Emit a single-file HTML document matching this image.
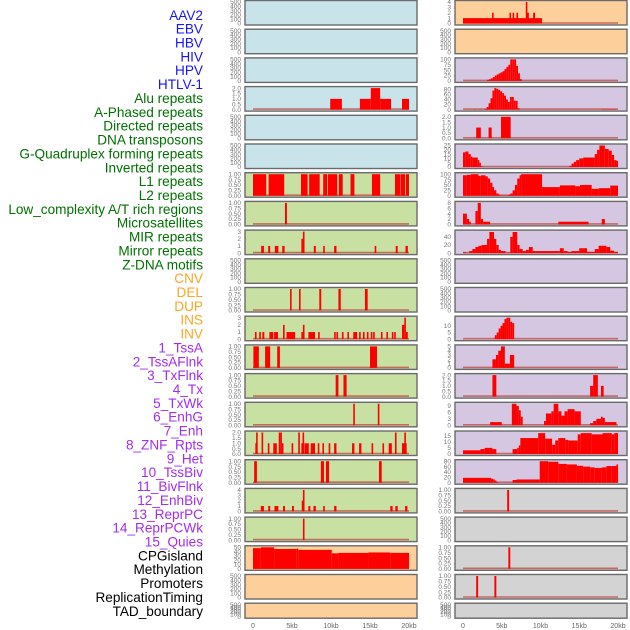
<!DOCTYPE html>
<html><head><meta charset="utf-8">
<style>
html,body{margin:0;padding:0;background:#fff;}
svg{display:block;font-family:"Liberation Sans",sans-serif;}
</style></head>
<body>
<svg id="chart" width="630" height="630" viewBox="0 0 630 630"></svg>
<script>
// ---------- data ----------
const labels = ["AAV2","EBV","HBV","HIV","HPV","HTLV-1","Alu repeats","A-Phased repeats","Directed repeats","DNA transposons","G-Quadruplex forming repeats","Inverted repeats","L1 repeats","L2 repeats","Low_complexity A/T rich regions","Microsatellites","MIR repeats","Mirror repeats","Z-DNA motifs","CNV","DEL","DUP","INS","INV","1_TssA","2_TssAFlnk","3_TxFlnk","4_Tx","5_TxWk","6_EnhG","7_Enh","8_ZNF_Rpts","9_Het","10_TssBiv","11_BivFlnk","12_EnhBiv","13_ReprPC","14_ReprPCWk","15_Quies","CPGisland","Methylation","Promoters","ReplicationTiming","TAD_boundary"];
const labelGroups = ["virus","virus","virus","virus","virus","virus","repeat","repeat","repeat","repeat","repeat","repeat","repeat","repeat","repeat","repeat","repeat","repeat","repeat","sv","sv","sv","sv","sv","state","state","state","state","state","state","state","state","state","state","state","state","state","state","state","other","other","other","other","other"];
const xTicks = [0,5,10,15,20];
const xTickLabels = ["0","5kb","10kb","15kb","20kb"];
const leftGroups  = ["virus","virus","virus","virus","virus","virus","repeat","repeat","repeat","repeat","repeat","repeat","repeat","repeat","repeat","repeat","repeat","repeat","repeat","other","other","other"];
const rightGroups = ["other","other","state","state","state","state","state","state","state","state","state","state","state","state","state","state","state","gray","gray","gray","gray","gray"];
const T_EMPTY=[0,100,200,300,400,500], T_BIN=[0,0.25,0.5,0.75,1], T2=[0,0.5,1,1.5,2], T3=[0,1,2,3], T4=[0,1,2,3,4];
const leftYmax  = [500,500,500,2,500,500,1,1,3,500,1,3,1,1,1,2,1,4,1,50,500,500];
const leftTicks = [T_EMPTY,T_EMPTY,T_EMPTY,T2,T_EMPTY,T_EMPTY,T_BIN,T_BIN,T3,T_EMPTY,T_BIN,T3,T_BIN,T_BIN,T_BIN,T2,T_BIN,T4,T_BIN,[0,10,20,30,40,50],T_EMPTY,T_EMPTY];
const leftSegs = [
 [],[],[],
 [[9.9,11.4,1],[13.7,15.1,1],[15.1,16.3,2],[16.3,17.7,1],[19.1,20.0,1]],
 [],[],
 [[0,1.7,1],[2.0,4.0,1],[6.15,7.0,1],[7.2,8.55,1],[9.0,9.5,1],[9.6,10.8,1],[11.0,11.5,1],[12.5,13.0,1],[15.25,16.3,1],[18.2,18.85,1],[18.9,19.5,1],[19.6,20.0,1]],
 [[4.1,4.35,1]],
 [[1.05,1.4,1],[1.95,2.2,1],[2.8,3.25,1],[3.75,4.05,1],[6.2,6.4,2],[6.4,6.6,3],[7.8,8.05,1],[9.0,9.2,1],[10.4,10.7,1],[15.6,15.8,1],[18.3,18.55,1],[19.55,19.85,1]],
 [],
 [[4.75,4.95,1],[5.9,6.1,1],[8.5,8.75,1],[10.95,11.25,1],[14.35,14.7,1]],
 [[0.25,0.45,1],[0.8,1.0,1],[1.2,1.45,1],[2.1,2.6,1],[2.7,3.2,1],[3.85,4.05,2],[4.3,5.4,1],[6.2,6.4,1],[6.4,6.6,2],[7.1,7.95,1],[8.35,8.55,1],[10.4,10.6,1],[10.7,10.9,1],[11.4,11.6,1],[12.1,12.3,1],[12.85,13.35,1],[13.6,13.8,1],[14.1,14.3,1],[14.6,14.8,1],[15.1,15.3,1],[15.4,15.6,1],[16.4,16.6,1],[17.1,17.3,1],[17.8,18.0,1],[18.1,18.3,1],[19.1,19.4,2],[19.4,19.6,3],[19.6,19.85,1]],
 [[0.05,0.75,1],[1.55,2.2,1],[3.1,3.45,1],[15.0,15.9,1]],
 [[10.6,10.95,1],[11.6,12.0,1]],
 [[12.85,13.05,1],[16.0,16.2,1]],
 [[0.3,0.5,1],[0.4,0.5,2],[1.1,1.3,2],[1.9,2.1,1],[2.6,3.05,1],[3.3,3.5,2],[3.5,3.7,2],[3.7,3.85,1],[4.95,5.15,1],[5.8,6.0,2],[6.2,6.35,1],[6.35,6.5,2],[6.6,7.15,1],[7.4,7.95,1],[8.3,8.5,1],[8.9,9.1,1],[9.7,9.9,1],[10.4,10.7,1],[12.7,13.0,1],[13.6,13.9,1],[15.2,15.4,1],[16.6,16.8,1],[17.4,17.8,1],[18.2,18.4,2],[19.1,19.7,1],[19.4,19.6,2]],
 [[0.15,0.5,1],[8.7,9.1,1],[9.35,9.75,1],[16.15,16.5,1]],
 [[1.0,1.4,1],[1.95,2.2,1],[2.75,3.25,1],[3.85,4.1,1],[5.0,5.25,1],[6.25,6.45,2],[6.4,6.6,4],[7.1,7.35,1],[7.75,8.05,1],[9.0,9.2,1],[10.4,10.7,1],[17.6,17.9,1],[18.25,18.55,1],[19.5,19.8,1]],
 [[6.4,6.6,1]],
 [[0,1,48],[1,2.7,50],[2.7,5.6,46],[5.6,5.8,47],[5.8,10.1,44],[10.1,10.95,36],[10.95,14.8,37],[14.8,17.6,38],[17.6,20,37]],
 [],[]
];
const rightYmax  = [4,500,100,85,2,25,100,8,53,500,500,16,5,2,10,17.5,80,1,500,1,1,500];
const rightTicks = [T4,T_EMPTY,[0,25,50,75,100],[0,20,40,60,80],T2,[0,5,10,15,20,25],[0,25,50,75,100],[0,2,4,6,8],[0,20,40],T_EMPTY,T_EMPTY,[0,5,10],[0,1,2,3,4,5],T2,[0,3,6,9],[0,5,10,15],[0,20,40,60,80],T_BIN,T_EMPTY,T_BIN,T_BIN,T_EMPTY];
const r2Profile = [5,8,12,18,25,30,35,40,45,55,65,75,100,100,100,70,35,8];
const r2Start = 3.1;
const r3Profile = [3,10,25,45,75,85,82,78,72,65,55,40,30,50,50,35,35,5];
const r3Start = 2.8;
const r11Profile = [3,5,8,10,12,15,16,16,13,12];
const r11Start = 4.1;
const profStep = 0.25;
function prof(start, vals){ return vals.map((v,i)=>[start+i*profStep,start+(i+1)*profStep,v]); }
const rightSegs = [
 [[0,10.2,1],[3.75,3.95,2],[6.0,6.2,2],[6.4,6.6,2],[6.9,7.1,2],[8.1,8.25,4],[8.25,8.5,2],[9.05,9.3,2]],
 [],
 prof(r2Start,r2Profile),
 prof(r3Start,r3Profile).concat([[1.5,1.7,1],[2.1,2.3,1],[17.8,19.8,1]]),
 [[1.7,2.3,1],[3.3,3.7,1],[4.9,6.15,2]],
 [[0,0.3,17],[0.3,0.7,18],[0.7,1.0,15],[1.0,1.2,12],[1.2,1.9,11],[1.9,2.1,8],[2.1,2.3,5],[2.3,2.5,1],[13.7,14.0,1],[14.0,14.3,4],[14.3,14.6,6],[14.6,15.0,8],[15.0,15.5,10],[15.5,17.0,11],[17.0,17.3,15],[17.3,17.6,20],[17.6,18.3,25],[18.3,18.8,21],[18.8,19.2,19],[19.2,19.5,14],[19.5,19.8,8],[19.8,20,7]],
 [[0,0.5,95],[0.5,1,97],[1,2,100],[2,2.3,92],[2.3,2.9,95],[2.9,3.2,90],[3.2,3.5,80],[3.5,3.8,60],[3.8,4.0,40],[4.0,4.3,25],[4.3,4.6,10],[4.6,4.8,5],[4.8,5.9,1],[5.9,6.1,5],[6.1,6.4,10],[6.4,6.7,25],[6.7,7.0,50],[7.0,7.3,80],[7.3,7.5,95],[7.5,10.2,100],[10.2,12.5,40],[12.5,14.5,48],[14.5,15.1,44],[15.1,16.6,50],[16.6,17.5,32],[17.5,19,35],[19,20,47]],
 [[0,0.5,4],[0.5,0.8,2],[0.8,1.0,1],[1.6,1.9,5],[1.9,2.3,8],[2.3,2.6,2],[2.6,3.5,1],[12.3,16.2,1],[17.9,18.3,2]],
 [[0,0.4,2],[0.8,1.2,5],[1.2,1.6,10],[1.6,2.0,15],[2.0,2.4,18],[2.4,3.1,20],[3.1,3.4,35],[3.4,4.0,52],[4.0,4.3,35],[4.3,4.6,20],[4.6,4.9,8],[4.9,5.5,5],[5.5,6.1,1],[6.1,6.4,40],[6.4,7.0,52],[7.0,7.3,20],[7.3,7.7,10],[7.7,8.1,5],[8.1,8.5,8],[8.5,9.0,15],[9.0,9.4,5],[9.4,12.5,5],[12.5,13.0,12],[13.0,13.5,5],[13.5,14.0,3],[14.0,15.0,5],[15.0,16.0,12],[16.0,17.0,3],[17.0,17.5,10],[17.5,18.5,18],[18.5,19.0,15],[19.0,19.5,6],[19.5,20,3]],
 [],[],
 prof(r11Start,r11Profile),
 [[3.8,4.25,2],[4.25,4.55,3],[4.55,4.9,4],[4.9,5.4,5],[5.4,6.05,1],[6.05,6.6,3]],
 [[3.8,4.3,2],[16.4,16.8,1],[16.8,17.4,2],[17.8,18.15,1]],
 [[3.5,5.0,1.5],[6.3,6.9,10],[6.9,7.2,9],[7.2,7.45,7],[7.45,7.7,4],[10.45,10.7,2],[10.7,11.4,5.5],[11.4,11.7,6.5],[11.7,12.3,10],[12.3,12.7,6.5],[12.7,13.1,4.5],[13.1,13.5,6.5],[13.5,14.4,7.5],[14.4,15.2,6.5],[16.4,16.8,1],[16.8,17.2,2],[17.2,17.8,3],[17.8,18.0,4],[18.0,18.3,3.5],[18.3,19.8,1.5]],
 [[0,2.25,3],[2.25,2.8,4],[2.8,3.8,5],[3.8,4.3,4],[6.4,7.0,4],[7.0,7.2,5],[7.2,7.4,7],[7.4,9.7,13],[9.7,10.6,17],[10.6,11.5,12.5],[11.5,11.9,7.5],[11.9,12.3,11],[12.3,13.2,13],[13.2,13.6,11.5],[13.6,14.8,11],[14.8,15.2,16],[15.2,16.6,17],[16.6,18.0,16],[18.0,19.2,17],[19.2,19.5,16],[19.5,20,17]],
 [[0,3.6,18],[3.6,3.9,15],[3.9,4.1,12],[4.1,4.3,8],[4.3,4.5,3],[6.4,6.9,10],[6.9,9.9,12],[9.9,11.0,80],[11.0,12.3,78],[12.3,13.4,70],[13.4,14.7,68],[14.7,15.5,63],[15.5,16.4,60],[16.4,17.0,57],[17.0,17.9,55],[17.9,18.5,57],[18.5,19.2,62],[19.2,19.8,62],[19.8,20,68]],
 [[5.7,5.95,1]],
 [],
 [[5.85,6.1,1]],
 [[1.7,1.95,1],[4.05,4.3,1]],
 []
];

// ---------- drawing ----------
const NS="http://www.w3.org/2000/svg";
const svg=document.getElementById('chart');
const bgColors={virus:"#c8e4ea",repeat:"#c8e0a2",other:"#fdd09b",state:"#d5c6e2",gray:"#d3d3d3"};
const textColors={virus:"#1515ff",repeat:"#007000",sv:"#ffa520",state:"#a32cf0",other:"#000000"};
function el(tag,attrs,parent){const e=document.createElementNS(NS,tag);for(const k in attrs)e.setAttribute(k,attrs[k]);(parent||svg).appendChild(e);return e;}

const PITCH=28.7;
function rowTop(i){return i*PITCH+0.5;}
function rowH(i){return i===21?15:24.5;}
const cols=[{x0:245,x1:417,d0:253,d1:409,name:'left'},{x0:455,x1:627,d0:463,d1:618,name:'right'}];
function xScale(c,kb){return c.d0+(c.d1-c.d0)*kb/20;}

// labels
labels.forEach((t,i)=>{
  const tx=el('text',{x:203,y:15+i*13.86+4.8,'text-anchor':'end','font-size':'13.6',fill:textColors[labelGroups[i]]});
  tx.textContent=t;
  
  
});

function drawPanel(c,i,group,ymax,ticks,segs){
  const g=el('g',{});
  
  
  const top=rowTop(i),h=rowH(i);
  const bg=el('rect',{x:c.x0,y:top,width:c.x1-c.x0,height:h,fill:bgColors[group],stroke:'#6a6a6a','stroke-width':1.4},g);
  
  
  const yb=top+h-1.5, yt=top+1.5;
  const ys=v=>yb-(yb-yt)*v/ymax;
  const dec=ticks.includes(0.25)?2:(ticks.some(t=>t%1!==0)?1:0);
  ticks.forEach(t=>{
    const ty=el('text',{x:c.x0-4,y:ys(t)+2.2,'text-anchor':'end','font-size':'6.5',fill:'#777'},g);
    ty.textContent=t.toFixed(dec);
    
    
  });
  if(segs.length){
    const bl=el('line',{x1:xScale(c,0),x2:xScale(c,20),y1:yb-0.5,y2:yb-0.5,stroke:'#c0504a','stroke-opacity':0.8,'stroke-width':1.6},g);
    
    
  }
  segs.forEach(s=>{
    const xa=xScale(c,s[0]),xb=xScale(c,s[1]);
    const r=el('rect',{x:xa,y:ys(Math.min(s[2],ymax*1.02)),width:Math.max(xb-xa,1.6),height:yb-ys(Math.min(s[2],ymax*1.02)),fill:'#ff0000'},g);
    
    
  });
}
for(let i=0;i<22;i++){
  drawPanel(cols[0],i,leftGroups[i],leftYmax[i],leftTicks[i],leftSegs[i]);
  drawPanel(cols[1],i,rightGroups[i],rightYmax[i],rightTicks[i],rightSegs[i]);
}
// x axes
cols.forEach(c=>{
  xTicks.forEach((t,j)=>{
    const tx=el('text',{x:xScale(c,t),y:628,'text-anchor':'middle','font-size':'7',fill:'#666'});
    tx.textContent=xTickLabels[j];
    
    
  });
});
</script>
</body></html>
